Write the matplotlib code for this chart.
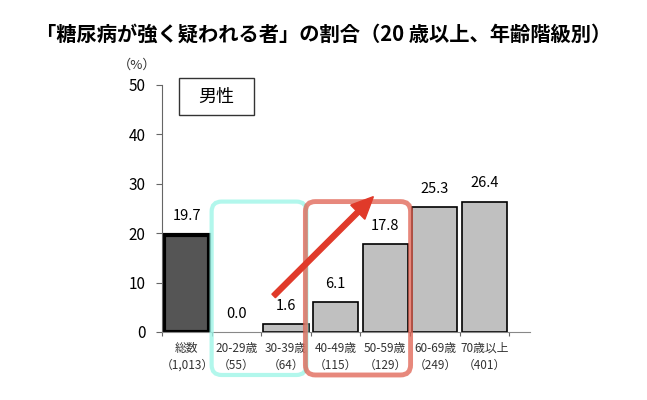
import matplotlib
matplotlib.use("Agg")
import matplotlib.pyplot as plt
import matplotlib.transforms as mtransforms
from matplotlib.patches import FancyBboxPatch, FancyArrow, Rectangle

plt.rcParams['font.family'] = ['Noto Sans CJK JP', 'DejaVu Sans']

# data
categories = ['総数', '20-29歳', '30-39歳', '40-49歳', '50-59歳', '60-69歳', '70歳以上']
counts = ['1,013', '55', '64', '115', '129', '249', '401']
values = [19.7, 0.0, 1.6, 6.1, 17.8, 25.3, 26.4]
value_labels = ['19.7', '0.0', '1.6', '6.1', '17.8', '25.3', '26.4']
yticks = [0, 10, 20, 30, 40, 50]

fig = plt.figure(figsize=(6.47, 4.0), dpi=100)
ax = fig.add_axes([0.2504, 0.17, 0.569, 0.6175])

x = list(range(len(categories)))
colors = ['#555555'] + ['#c0c0c0'] * (len(categories) - 1)
lws = [3] + [1.2] * (len(categories) - 1)
for xi, v, c, lw in zip(x, values, colors, lws):
    if v > 0:
        ax.bar(xi, v, width=0.91, color=c, edgecolor='black', linewidth=lw, zorder=2)

for xi, v, lab in zip(x, values, value_labels):
    ax.text(xi, v + 2.3, lab, ha='center', va='bottom', fontsize=10.5)

ax.set_xlim(-0.5, 6.92)
ax.set_ylim(0, 50)
ax.set_yticks(yticks)
ax.set_yticklabels([str(t) for t in yticks], fontsize=11)
ax.tick_params(axis='y', direction='out', length=4, color='#666666', pad=8)
ax.set_xticks([i + 0.5 for i in range(-1, 7)])
ax.set_xticklabels([])
ax.tick_params(axis='x', direction='out', length=3, color='#666666')
for s in ['top', 'right']:
    ax.spines[s].set_visible(False)
ax.spines['left'].set_color('#666666')
ax.spines['bottom'].set_color('#888888')

for xi, cat, n in zip(x, categories, counts):
    ax.text(xi, -2.0, cat, ha='center', va='top', fontsize=8.5, color='#333333')
    ax.text(xi, -5.4, '（' + n + '）', ha='center', va='top', fontsize=8.5, color='#333333')

ax.text(-1.0, 52.6, '（%）', ha='center', va='bottom', fontsize=9.5, color='#333333')

ident = mtransforms.IdentityTransform()

# legend-like box (pixel space, top-left of plot)
lb0 = ax.transData.transform((-0.16, 43.9))
lb1 = ax.transData.transform((1.35, 51.4))
ax.add_patch(Rectangle((lb0[0], lb0[1]), lb1[0] - lb0[0], lb1[1] - lb0[1],
                       transform=ident, fill=True, fc='white', ec='#333333',
                       lw=1, zorder=4, clip_on=False))
ax.text(0.595, 47.5, '男性', ha='center', va='center', fontsize=13, zorder=7)

fig.suptitle('「糖尿病が強く疑われる者」の割合（20 歳以上、年齢階級別）',
             x=0.5, y=0.94, fontsize=14.6, fontweight='bold')

# highlight boxes
def box(x0, y0, x1, y1, color, lw, alpha):
    p0 = ax.transData.transform((x0, y0))
    p1 = ax.transData.transform((x1, y1))
    patch = FancyBboxPatch((p0[0], p0[1]), p1[0] - p0[0], p1[1] - p0[1],
                           boxstyle='round,pad=0,rounding_size=10',
                           transform=ident, fill=False, ec=color, lw=lw,
                           alpha=alpha, zorder=5)
    fig.patches.append(patch)

box(0.50, -8.7, 2.41, 26.4, '#9ff5e8', 3, 0.8)
box(2.39, -8.7, 4.51, 26.4, '#e06050', 3.5, 0.75)

t0 = ax.transData.transform((1.75, 7.3))
t1 = ax.transData.transform((3.76, 27.4))
arrow = FancyArrow(t0[0], t0[1], t1[0] - t0[0], t1[1] - t0[1], width=5,
                   head_width=20, head_length=22, length_includes_head=True,
                   color='#e03a2a', transform=ident, zorder=6)
fig.patches.append(arrow)

fig.savefig('out.png', dpi=100)
